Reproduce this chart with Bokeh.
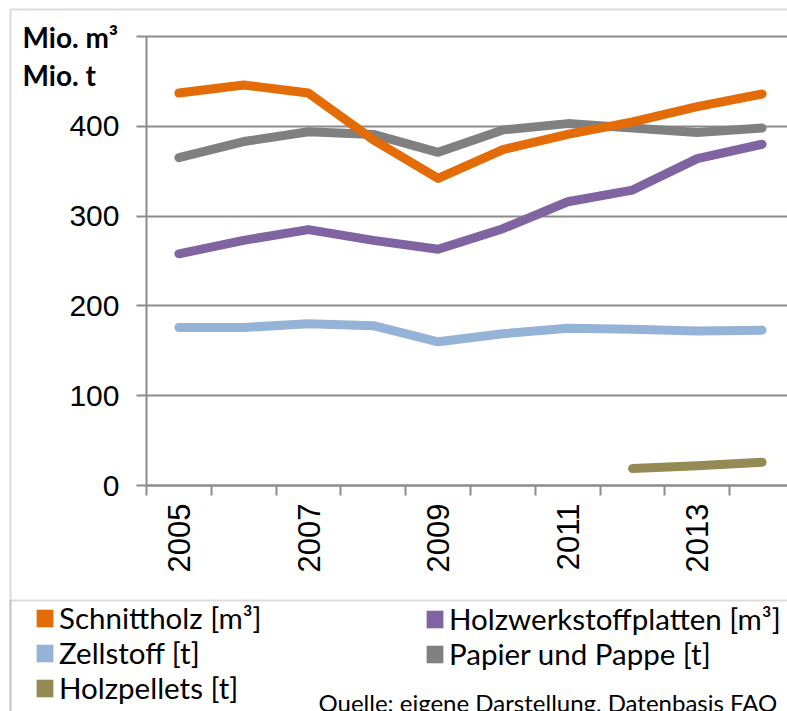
import math
from bokeh.plotting import figure
from bokeh.models import (Range1d, FixedTicker, LinearAxis, Legend, LegendItem,
                          Label, BoxAnnotation)
from bokeh.embed import file_html
from bokeh.resources import INLINE

# ---- data ----
years = [2005, 2006, 2007, 2008, 2009, 2010, 2011, 2012, 2013, 2014]
schnittholz = [437, 446, 437, 385, 342, 374, 391, 405, 422, 436]
holzwerkstoffplatten = [258, 273, 285, 273, 263, 286, 316, 329, 364, 380]
zellstoff = [176, 176, 180, 178, 160, 169, 175, 174, 172, 173]
papier = [365, 383, 394, 391, 371, 396, 403, 398, 393, 398]
pellet_years = [2012, 2013, 2014]
holzpellets = [19, 22, 26]
year_ticks = [2005, 2007, 2009, 2011, 2013]
y_ticks = [0, 100, 200, 300, 400, 500]
y_tick_labels = {0: "0", 100: "100", 200: "200", 300: "300", 400: "400", 500: ""}

series_names = ["Schnittholz [m³]", "Holzwerkstoffplatten [m³]", "Zellstoff [t]",
                "Papier und Pappe [t]", "Holzpellets [t]"]
colors = {"Schnittholz [m³]": "#E36C09", "Holzwerkstoffplatten [m³]": "#8064A2",
          "Zellstoff [t]": "#95B3D7", "Papier und Pappe [t]": "#808080",
          "Holzpellets [t]": "#948A54"}

# ---- layout geometry (pixels) ----
W, H = 787, 711
AX_LEFT_PX = 146      # pixel of the category start (left axis)
YEAR_PX = 64.8        # pixel width of one category
ZERO_PX = 485         # pixel of y = 0
UNIT_PX = 0.898       # pixels per y unit
GRID = "#8c8c8c"

x0 = years[0] - 0.5
x1 = years[-1] + 0.5
x_range = Range1d(x0 - AX_LEFT_PX / YEAR_PX, x0 + (W - AX_LEFT_PX) / YEAR_PX)
y_range = Range1d(-(H - ZERO_PX) / UNIT_PX, ZERO_PX / UNIT_PX)

p = figure(width=W, height=H, output_backend="svg", toolbar_location=None,
           x_range=x_range, y_range=y_range,
           min_border=0, min_border_left=0, min_border_right=0,
           min_border_top=0, min_border_bottom=0,
           x_axis_location=None, y_axis_location=None)
p.outline_line_color = None
p.background_fill_color = "white"
p.border_fill_color = "white"
p.xgrid.visible = False
p.ygrid.visible = False

# y axis (ticks inward act as the horizontal gridlines)
yax = LinearAxis(ticker=FixedTicker(ticks=y_ticks), fixed_location=x0,
                 bounds=(y_ticks[0], y_ticks[-1]))
yax.level = "underlay"
yax.major_label_overrides = y_tick_labels
yax.axis_line_color = GRID
yax.axis_line_width = 2
yax.major_tick_line_color = GRID
yax.major_tick_line_width = 2
yax.major_tick_out = 10
yax.major_tick_in = W - AX_LEFT_PX
yax.minor_tick_line_color = None
yax.major_label_standoff = 17
yax.major_label_text_font = "Liberation Sans"
yax.major_label_text_font_size = "30px"
yax.major_label_text_color = "black"
p.add_layout(yax, "left")

# x axis: ticks at category boundaries
bounds = [y - 0.5 for y in years] + [years[-1] + 0.5]
xax = LinearAxis(ticker=FixedTicker(ticks=bounds), fixed_location=0, bounds=(x0, x1))
xax.level = "underlay"
xax.major_label_text_font_size = "0px"
xax.major_label_overrides = {b: "" for b in bounds}
xax.axis_line_color = GRID
xax.axis_line_width = 2
xax.major_tick_line_color = GRID
xax.major_tick_line_width = 2
xax.major_tick_out = 10
xax.major_tick_in = 0
xax.minor_tick_line_color = None
p.add_layout(xax, "below")

# x axis year labels
xlab = LinearAxis(ticker=FixedTicker(ticks=year_ticks), fixed_location=0, bounds=(x0, x1))
xlab.axis_line_color = None
xlab.major_tick_line_color = None
xlab.minor_tick_line_color = None
xlab.major_tick_out = 0
xlab.major_tick_in = 0
xlab.major_label_orientation = math.pi / 2
xlab.major_label_standoff = 18
xlab.major_label_text_font = "Liberation Sans"
xlab.major_label_text_font_size = "31px"
xlab.major_label_text_color = "black"
p.add_layout(xlab, "below")

data = {"Schnittholz [m³]": (years, schnittholz),
        "Holzwerkstoffplatten [m³]": (years, holzwerkstoffplatten),
        "Zellstoff [t]": (years, zellstoff),
        "Papier und Pappe [t]": (years, papier),
        "Holzpellets [t]": (pellet_years, holzpellets)}

draw_order = ["Holzpellets [t]", "Zellstoff [t]", "Holzwerkstoffplatten [m³]",
              "Papier und Pappe [t]", "Schnittholz [m³]"]
for name in draw_order:
    xs, ys = data[name]
    p.line(xs, ys, line_color=colors[name], line_width=9,
           line_cap="round", line_join="round")

# legend swatches: zero-size rects on each series' first point -> square legend patch
swatch = {}
for name in series_names:
    xs, ys = data[name]
    swatch[name] = p.rect(x=xs[:1], y=ys[:1], width=0, height=0,
                          fill_color=colors[name], line_color=None)

def make_legend(names, loc):
    lg = Legend(items=[LegendItem(label=n, renderers=[swatch[n]]) for n in names],
                location=loc, orientation="vertical")
    lg.border_line_color = None
    lg.background_fill_alpha = 0
    lg.padding = 0
    lg.margin = 0
    lg.spacing = -2
    lg.glyph_width = 21
    lg.glyph_height = 22
    lg.label_standoff = 4
    lg.label_text_font = "Lato"
    lg.label_text_font_size = "29.5px"
    lg.label_text_color = "black"
    lg.label_height = 30
    lg.label_text_baseline = "middle"
    return lg

p.add_layout(make_legend(["Schnittholz [m³]", "Zellstoff [t]", "Holzpellets [t]"], (34, 6)))
p.add_layout(make_legend(["Holzwerkstoffplatten [m³]", "Papier und Pappe [t]"], (424, 40)))

# unit labels and source note
p.add_layout(Label(x=22, y=36, x_units="canvas", y_units="canvas",
                   text="Mio. m³", text_font="Lato", text_font_style="bold",
                   text_font_size="28px", text_baseline="middle", text_color="black"))
p.add_layout(Label(x=22, y=74, x_units="canvas", y_units="canvas",
                   text="Mio. t", text_font="Lato", text_font_style="bold",
                   text_font_size="28px", text_baseline="middle", text_color="black"))
p.add_layout(Label(x=318, y=702, x_units="canvas", y_units="canvas",
                   text="Quelle: eigene Darstellung, Datenbasis FAO", text_font="Lato",
                   text_font_size="24px", text_baseline="middle", text_color="black"))

# outer frame and separator
p.add_layout(BoxAnnotation(left=10, top=9, right=1000, bottom=1000,
                           left_units="canvas", right_units="canvas",
                           top_units="canvas", bottom_units="canvas",
                           fill_alpha=0, line_color=GRID, line_width=2))
p.add_layout(BoxAnnotation(left=10, top=600, right=1000, bottom=1000,
                           left_units="canvas", right_units="canvas",
                           top_units="canvas", bottom_units="canvas",
                           fill_alpha=0, line_color=GRID, line_width=2))

open("out.html", "w").write(file_html(p, INLINE))
